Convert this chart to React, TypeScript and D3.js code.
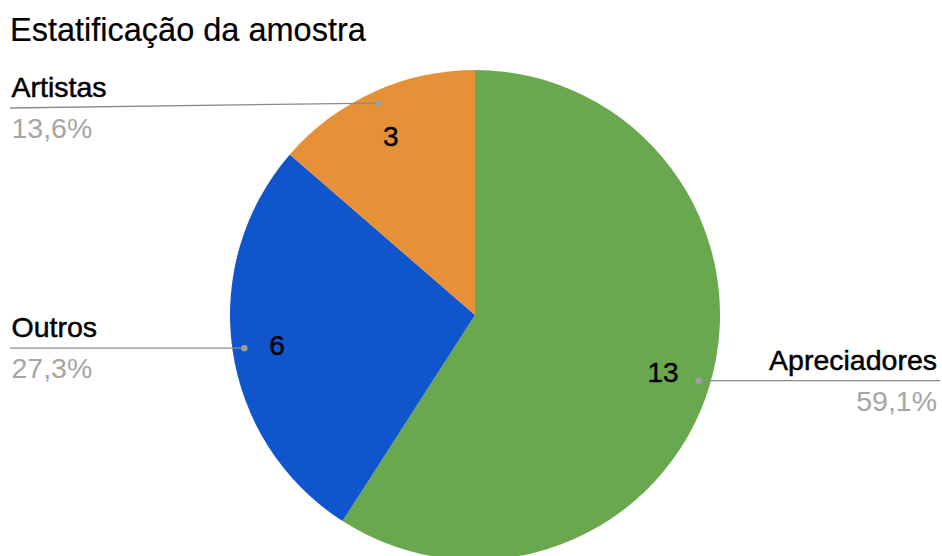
import React from "react";
import * as d3 from "d3";

const categories = ["Apreciadores", "Outros", "Artistas"];
const values = [13, 6, 3];
const percentLabels = ["59,1%", "27,3%", "13,6%"];
const colors = ["#6aa84f", "#1155cc", "#e69138"];
const title = "Estatificação da amostra";

const W = 942;
const H = 556;
const cx = 475;
const cy = 315;
const R = 245;
const FONT = "'Liberation Sans', Arial, Helvetica, sans-serif";

export default function App() {
  const pie = d3.pie<number>().sort(null).value((d) => d);
  const arcs = pie(values);
  const arc = d3.arc<d3.PieArcDatum<number>>().innerRadius(0).outerRadius(R);
  const labelArc = d3.arc<d3.PieArcDatum<number>>().innerRadius(198).outerRadius(198);
  const dotArc = d3.arc<d3.PieArcDatum<number>>().innerRadius(233).outerRadius(233);

  return (
    <svg
      width={W}
      height={H}
      style={{ position: "absolute", left: 0, top: 0, display: "block", background: "#fff" }}
      fontFamily={FONT}
    >
      <rect width={W} height={H} fill="#fff" />
      <text x={10} y={41} fontSize={32.5} fill="#000" stroke="#000" strokeWidth={0.2}>
        {title}
      </text>
      <g transform={`translate(${cx},${cy})`}>
        {arcs.map((a, i) => (
          <path key={i} d={arc(a) || ""} fill={colors[i]} />
        ))}
        {arcs.map((a, i) => {
          const [x, y] = labelArc.centroid(a);
          return (
            <text
              key={"v" + i}
              x={x - 2}
              y={y + 2}
              fontSize={28}
              fill="#000"
              stroke="#000"
              strokeWidth={0.4}
              textAnchor="middle"
              dominantBaseline="central"
            >
              {values[i]}
            </text>
          );
        })}
      </g>
      {arcs.map((a, i) => {
        const [dx, dy] = dotArc.centroid(a);
        const px = cx + dx;
        const py = cy + dy;
        const right = dx > 0;
        const lineY = Math.max(py, 108);
        const endX = right ? 940 : 10;
        const textX = right ? 937 : 11.5;
        const anchor = right ? "end" : "start";
        return (
          <g key={"l" + i}>
            <path
              d={`M${px},${py}L${endX},${lineY}`}
              stroke="#8a8a8a"
              strokeWidth={1.3}
              fill="none"
            />
            <circle cx={px} cy={py} r={3.2} fill="#9e9e9e" />
            <text
              x={textX}
              y={lineY - 11}
              fontSize={28.5}
              fill="#000"
              stroke="#000"
              strokeWidth={0.5}
              textAnchor={anchor}
            >
              {categories[i]}
            </text>
            <text x={textX} y={lineY + 30} fontSize={28.5} fill="#a5a5a5" textAnchor={anchor}>
              {percentLabels[i]}
            </text>
          </g>
        );
      })}
    </svg>
  );
}
